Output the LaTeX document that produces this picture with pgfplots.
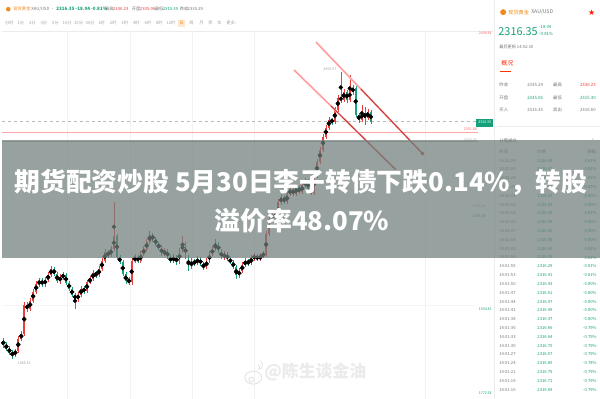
\documentclass[border=0pt]{standalone}
\usepackage{pgfplots}
\pgfplotsset{compat=1.18}
\usepackage{pgfplotstable}
\usepackage{fontspec}
\setmainfont{Noto Sans CJK SC}
\newfontfamily\dejavu{DejaVu Sans}
\newcommand\fs[1]{\fontsize{#1}{#1}\selectfont}
\definecolor{cred}{RGB}{232,62,60}
\definecolor{cgreen}{RGB}{22,160,122}
\definecolor{corange}{RGB}{240,140,30}
\definecolor{banner}{RGB}{112,126,122}
\definecolor{tgray}{RGB}{120,120,120}

\pgfplotstableread{
x top bot hi lo
13 352 356 350 358
16 340 352 337 354
19 335 340 332 342
22 306 335 303 337
28 302 310 299 312
31 293 302 290 304
34 285 293 282 295
37 282 285 279 288
43 281 285 278 288
46 276 281 273 283
49 270 276 267 278
58 278 282 275 285
61 276 278 273 281
76 296 300 293 303
79 290 296 287 298
85 283 292 281 294
88 280 283 277 285
91 274 280 271 282
97 270 276 267 278
100 262 270 259 272
103 253 262 250 264
109 250 256 247 258
112 237 250 203 252
130 262 283 259 286
133 258 262 255 264
139 255 262 252 264
142 250 255 247 257
145 243 250 240 252
148 236 243 232 245
163 252 255 249 257
172 258 262 255 264
178 252 263 249 265
181 245 252 237 254
190 262 268 259 270
196 260 264 257 266
205 262 268 259 270
208 255 262 252 264
211 250 255 247 257
214 245 250 240 252
223 255 258 252 261
238 272 276 269 279
241 266 272 263 274
244 262 266 259 268
250 259 264 256 266
253 257 259 254 262
259 257 260 254 262
262 255 257 252 259
265 235 256 232 258
268 220 235 216 237
271 215 220 212 223
277 203 218 200 220
280 198 203 195 206
286 195 203 192 205
289 190 195 187 197
295 188 195 185 197
301 186 193 183 195
304 182 186 179 189
313 176 194 173 196
316 162 176 159 178
319 150 162 147 164
322 137 150 134 152
325 128 137 125 139
328 120 128 117 130
334 110 122 107 124
337 98 110 95 112
343 92 100 89 102
349 90 100 75 102
352 88 92 85 95
361 113 120 105 122
367 112 118 109 120
}\redc

\pgfplotstableread{
x top bot hi lo
1 342 346 339 349
4 346 350 343 352
7 350 354 347 356
10 354 356 351 360
25 306 310 303 313
40 282 285 279 288
52 270 275 268 277
55 275 282 273 284
64 276 284 274 286
67 284 290 282 292
70 290 296 288 298
73 296 300 294 310
82 290 292 287 295
94 274 276 272 279
106 253 256 251 259
115 237 258 235 260
118 258 263 256 265
121 263 275 261 277
124 275 282 273 285
127 280 283 278 286
136 258 262 256 264
151 236 240 234 243
154 240 245 238 247
157 245 248 243 251
160 248 255 246 257
166 252 258 250 260
169 258 262 256 264
175 258 263 256 266
184 245 258 243 260
187 258 268 256 272
193 262 264 260 267
199 260 265 258 267
202 265 268 263 271
217 245 252 243 254
220 252 258 250 260
226 255 260 253 262
229 260 263 258 265
232 263 268 261 270
235 268 276 266 280
247 262 264 260 267
256 257 260 255 262
274 215 218 213 221
283 198 203 196 205
292 190 195 188 197
298 188 193 186 195
307 182 190 180 192
310 190 194 188 196
331 120 122 118 125
340 98 100 72 103
346 92 100 90 103
355 88 115 86 117
358 115 120 113 123
364 113 118 107 125
370 112 122 110 124
}\greenc

\begin{document}
\begin{tikzpicture}
\begin{scope}[shift={(0,400bp)},x=1bp,y=-1bp]
\fill[white] (0,0) rectangle (600,400);
\foreach \gx in {65,128,191,253,425} \draw[gray!10, line width=0.4bp] (\gx,31) -- (\gx,400);
\draw[gray!15, line width=0.4bp] (0,31) -- (493,31);
\draw[gray!8, line width=0.4bp] (0,306) -- (476,306);
\end{scope}

\begin{axis}[at={(0,0)}, anchor=south west, width=600bp, height=400bp, scale only axis,
  xmin=0, xmax=600, ymin=0, ymax=400, y dir=reverse, hide axis, clip=false]
\addplot[gray!55, dashed, line width=0.4bp, forget plot] coordinates {(0,121)(476,121)};
\addplot[red!35, line width=0.6bp, forget plot] coordinates {(0,133)(478,133)};
\addplot[gray!60, line width=0.6bp, forget plot] coordinates {(0,142)(478,142)};
% wicks
\addplot[only marks, mark=none, forget plot, error bars/.cd, y dir=both, y explicit, error mark=none,
  error bar style={line width=0.45bp, draw=cred}]
  table[x=x, y expr={(\thisrow{hi}+\thisrow{lo})/2}, y error expr={(\thisrow{lo}-\thisrow{hi})/2}] {\redc};
\addplot[only marks, mark=none, forget plot, error bars/.cd, y dir=both, y explicit, error mark=none,
  error bar style={line width=0.45bp, draw=cgreen}]
  table[x=x, y expr={(\thisrow{hi}+\thisrow{lo})/2}, y error expr={(\thisrow{lo}-\thisrow{hi})/2}] {\greenc};
% bodies
\addplot[only marks, mark=none, forget plot, error bars/.cd, y dir=both, y explicit, error mark=none,
  error bar style={line width=1.7bp, draw=cred}]
  table[x=x, y expr={(\thisrow{top}+\thisrow{bot})/2}, y error expr={(\thisrow{bot}-\thisrow{top})/2}] {\redc};
\addplot[only marks, mark=none, forget plot, error bars/.cd, y dir=both, y explicit, error mark=none,
  error bar style={line width=1.7bp, draw=cgreen}]
  table[x=x, y expr={(\thisrow{top}+\thisrow{bot})/2}, y error expr={(\thisrow{bot}-\thisrow{top})/2}] {\greenc};
% trend lines
\addplot[red!22, line width=2bp, forget plot] coordinates {(315,42)(422,154)};
\addplot[red!45, line width=0.7bp, forget plot] coordinates {(315,42)(360,89)};
\addplot[cred!85!black, line width=1bp, forget plot] coordinates {(360,89)(422,154)};
\addplot[red!22, line width=2bp, forget plot] coordinates {(293,70)(395,170)};
\addplot[red!45, line width=0.7bp, forget plot] coordinates {(293,70)(330,106)};
\addplot[cred!85!black, line width=1bp, forget plot] coordinates {(330,106)(395,170)};
\addplot[only marks, mark=*, mark size=1.6bp, cred!85!black, forget plot] coordinates {(422,154)};
\end{axis}

\begin{scope}[shift={(0,400bp)},x=1bp,y=-1bp]
% header row 1
\fill[corange] (6,9) circle (2.3);
\begin{scope}[every node/.style={anchor=west, inner sep=0pt, font=\fs{4.3}}]
\node[text=corange] at (11,9) {现货黄金};
\node[text=tgray] at (29,9) {XAU/USD ·};
\node[text=cgreen, font=\fs{4.6}\bfseries] at (54,9) {2316.35 -18.04 -0.81\%};
\node[text=tgray] at (103,9) {最高};
\node[text=cred] at (111,9) {2336.23};
\node[text=tgray] at (130,9) {开盘};
\node[text=cred] at (138,9) {2335.06};
\node[text=tgray] at (153,9) {最低};
\node[text=cgreen] at (161,9) {2315.30};
\node[text=tgray] at (178,9) {昨收};
\node[text=tgray] at (186,9) {2335.29};
\end{scope}
% header row 2
\foreach \i/\lab in {0/分时,1/1分,2/2分,3/3分,4/5分,5/10分,6/15分,7/30分,8/1时,9/2时,10/3时,11/4时,12/6时,13/8时,14/12时}
  \node[text=gray!70, font=\fs{4.3}, inner sep=0pt] at ({7+11.6*\i},23) {\lab};
\fill[corange!20] (176.5,19.5) rectangle (183.5,26.5);
\node[text=corange, font=\fs{4.3}, inner sep=0pt] at (180,23) {日};
\foreach \xx/\lab in {190/周,200/月,209/季,218/年,230/更多›}
  \node[text=gray!70, font=\fs{4.3}, inner sep=0pt] at (\xx,23) {\lab};

% chart labels
\node[text=gray!70, font=\fs{3.6}, inner sep=0pt] at (329,69) {2450.07};
\node[text=gray!70, font=\fs{3.6}, inner sep=0pt] at (22,365) {1888.83};
\node[text=red!60, font=\fs{3.6}, inner sep=0pt] at (485,33) {2406.84};
\fill[cgreen] (476,119) rectangle (493,127);
\node[text=white, font=\fs{3.6}, inner sep=0pt] at (484.5,123) {2316.35};
\node[text=red!60, font=\fs{3.6}, inner sep=0pt] at (470,130) {2351.88};
\node[text=gray!70, font=\fs{3.6}, inner sep=0pt] at (470,141) {2342.07};
\node[text=gray!70, font=\fs{3.6}, inner sep=0pt] at (479,207) {1965.45};
\node[text=cgreen, font=\fs{3.6}, inner sep=0pt] at (479,217) {1936.39};
\node[text=cgreen, font=\fs{3.6}, inner sep=0pt] at (485,310) {1934.81};
\node[text=cgreen, font=\fs{3.6}, inner sep=0pt] at (485,395) {1772.38};

% right panel
\draw[gray!15, line width=0.5bp] (494,0) -- (494,400);
\fill[corange] (503,12) circle (3);
\node[text=corange, font=\fs{5.2}, anchor=west, inner sep=0pt] at (508,12) {现货黄金};
\node[text=tgray, font=\fs{5.2}, anchor=west, inner sep=0pt] at (531,12) {XAU/USD};
\node[text=red!80!orange, font=\dejavu\fs{8}, inner sep=0pt] at (592,12) {★};
\node[text=cgreen, font=\fs{11}, anchor=west, inner sep=0pt] at (498,31) {2316.35};
\node[text=cgreen, font=\fs{4.3}, anchor=west, inner sep=0pt] at (539,27) {-18.04};
\node[text=cgreen, font=\fs{4.3}, anchor=west, inner sep=0pt] at (539,34) {-0.81\%};
\node[text=tgray, font=\fs{4.2}, anchor=west, inner sep=0pt] at (499,47) {最后更新 14:02:30};
\node[text=red!70!orange, font=\fs{6}, anchor=west, inner sep=0pt] at (501,63) {概况};
\draw[red!60!orange, line width=1bp] (500,72) -- (511,72);
\begin{scope}[every node/.style={anchor=west, inner sep=0pt, font=\fs{4.4}}]
\node[text=tgray] at (499,85) {昨收}; \node[text=tgray] at (527,85) {2335.29};
\node[text=tgray] at (553,85) {最高}; \node[text=cred] at (580,85) {2336.23};
\node[text=tgray] at (499,98) {开盘}; \node[text=cgreen] at (527,98) {2335.06};
\node[text=tgray] at (553,98) {最低}; \node[text=cgreen] at (580,98) {2315.30};
\node[text=tgray] at (499,110) {买入}; \node[text=tgray] at (527,110) {2316.35};
\node[text=tgray] at (553,110) {卖出}; \node[text=tgray] at (580,110) {2316.60};
\node[text=gray!80!black] at (499,141) {分笔成交};
\node[text=tgray] at (499,152) {时间};
\node[text=tgray] at (537,152) {价格};
\node[text=tgray] at (587,152) {涨幅};
\end{scope}
\draw[gray!15, line width=0.5bp] (497,127) -- (600,127);
\node[text=gray!60, font=\fs{5}, inner sep=0pt] at (593,141) {\^{}};
\foreach \i/\t/\p/\c in {0/14:02:29/2316.35/-0.81,1/14:02:26/2316.41/-0.81,2/14:02:24/2316.28/-0.81,
 3/14:02:21/2316.33/-0.81,4/14:02:18/2316.47/-0.80,5/14:02:15/2316.52/-0.80,6/14:02:12/2316.38/-0.81,
 7/14:02:10/2316.45/-0.80,8/14:02:07/2316.60/-0.80,9/14:02:04/2316.58/-0.80,10/14:02:01/2316.42/-0.81,
 11/14:01:58/2316.35/-0.81,12/14:01:55/2316.29/-0.81,13/14:01:53/2316.41/-0.81,14/14:01:50/2316.43/-0.80,
 15/14:01:47/2316.61/-0.80,16/14:01:44/2316.47/-0.80,17/14:01:41/2316.49/-0.80,18/14:01:38/2316.47/-0.80,
 19/14:01:36/2316.66/-0.79,20/14:01:33/2316.64/-0.79,21/14:01:30/2316.70/-0.79,22/14:01:27/2316.67/-0.79,
 23/14:01:24/2316.80/-0.78,24/14:01:21/2316.75/-0.79,25/14:01:19/2316.71/-0.79,26/14:01:16/2316.69/-0.79}
{
 \node[text=tgray, font=\fs{4.2}, anchor=west, inner sep=0pt] at (499,{161+8.85*\i}) {\t};
 \node[text=cgreen, font=\fs{4.2}, inner sep=0pt] at (545,{161+8.85*\i}) {\p};
 \node[text=cgreen, font=\fs{4.2}, anchor=east, inner sep=0pt] at (597,{161+8.85*\i}) {\c\%};
}

% watermark
\draw[gray!22, line width=0.9bp] (252,379) ellipse (8.5 and 6.5);
\draw[gray!22, line width=0.8bp] (250,381) circle (2.5);
\draw[gray!22, line width=0.8bp] (257,366) arc (-60:60:3);
\draw[gray!22, line width=0.8bp] (259,362) arc (-60:60:5);
\node[text=gray!16, font=\fs{17}\bfseries, anchor=west, inner sep=0pt] at (263,373) {@陈生谈金油};

% banner
\fill[banner, fill opacity=0.72] (0,140) rectangle (600,259);
\node[text=white, font=\fs{26}\bfseries, inner sep=0pt] at (300,183) {期货配资炒股 5月30日李子转债下跌0.14\%，转股};
\node[text=white, font=\fs{26}\bfseries, inner sep=0pt] at (301,221) {溢价率48.07\%};
\end{scope}
\end{tikzpicture}
\end{document}
